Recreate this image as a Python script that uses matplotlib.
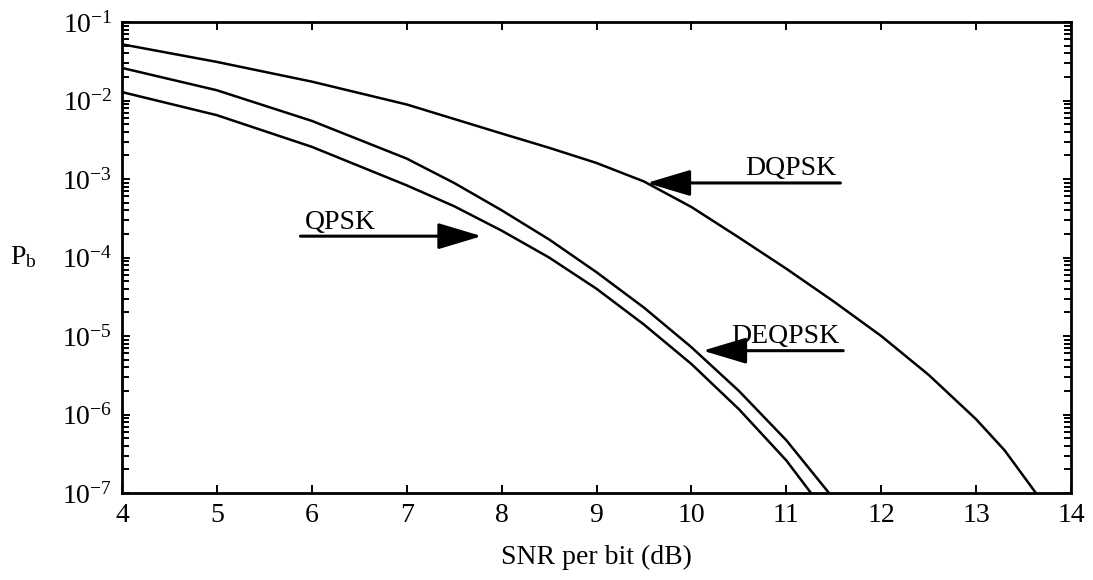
import numpy as np
import matplotlib.pyplot as plt
from matplotlib.ticker import LogLocator, NullFormatter

plt.rcParams['font.family'] = ['Liberation Serif', 'DejaVu Serif']
plt.rcParams['mathtext.fontset'] = 'custom'
plt.rcParams['mathtext.rm'] = 'Liberation Serif'
plt.rcParams['mathtext.it'] = 'Liberation Serif:italic'

# curvas (SNR en dB, Pb)
qpsk_x = [4.0, 5.0, 6.0, 7.0, 7.5, 8.0, 8.5, 9.0, 9.5, 10.0, 10.5, 11.0, 11.26]
qpsk_p = [1.28e-2, 6.5e-3, 2.57e-3, 8.3e-4, 4.5e-4, 2.2e-4, 1.0e-4, 4.0e-5,
          1.4e-5, 4.4e-6, 1.17e-6, 2.6e-7, 1.0e-7]

deqpsk_x = [4.0, 5.0, 6.0, 7.0, 7.5, 8.0, 8.5, 9.0, 9.5, 10.0, 10.5, 11.0, 11.45]
deqpsk_p = [2.6e-2, 1.35e-2, 5.5e-3, 1.82e-3, 8.9e-4, 4.0e-4, 1.7e-4, 6.5e-5,
            2.3e-5, 7.2e-6, 2.0e-6, 4.7e-7, 1.0e-7]

dqpsk_x = [4.0, 5.0, 6.0, 7.0, 8.0, 8.5, 9.0, 9.5, 10.0, 10.5, 11.0, 11.5, 12.0,
           12.5, 13.0, 13.3, 13.63]
dqpsk_p = [5.2e-2, 3.1e-2, 1.74e-2, 8.9e-3, 3.8e-3, 2.5e-3, 1.6e-3, 9.3e-4,
           4.4e-4, 1.8e-4, 7.2e-5, 2.75e-5, 1.0e-5, 3.2e-6, 8.7e-7, 3.5e-7, 1.0e-7]

# flechas: texto, cola x, punta x, y
etiquetas = ['QPSK', 'DQPSK', 'DEQPSK']
cola_x = [5.88, 11.57, 11.60]
punta_x = [7.79, 9.53, 10.12]
flecha_y = [1.87e-4, 8.9e-4, 6.5e-6]

x_ticks = list(range(4, 15))
y_exp = [1, 2, 3, 4, 5, 6, 7]

fig = plt.figure(figsize=(10.93, 5.8), dpi=100)
ax = fig.add_axes([122/1093, 1-493/580, (1071-122)/1093, (493-22)/580])

for xs, ps in [(qpsk_x, qpsk_p), (deqpsk_x, deqpsk_p), (dqpsk_x, dqpsk_p)]:
    ax.plot(xs, ps, color='black', lw=1.8)

ax.set_yscale('log')
ax.set_xlim(4, 14)
ax.set_ylim(1e-7, 1e-1)
ax.set_xticks(x_ticks)
ax.set_xticklabels([str(v) for v in x_ticks], fontsize=20)
ax.set_yticks([10.0**(-k) for k in y_exp])
ax.set_yticklabels(['10$^{-%d}$' % k for k in y_exp], fontsize=20)
ax.yaxis.set_minor_locator(LogLocator(base=10, subs=np.arange(2, 10), numticks=30))
ax.yaxis.set_minor_formatter(NullFormatter())

ax.tick_params(axis='both', which='both', direction='in', top=True, right=True, width=1.4)
ax.tick_params(axis='both', which='major', length=6, pad=7)
ax.tick_params(axis='y', which='minor', length=5)
for s in ax.spines.values():
    s.set_linewidth(2.0)

ax.set_xlabel('SNR per bit (dB)', fontsize=20, labelpad=12)
fig.text(10/1093, 1-257/580, 'P$_\\mathrm{b}$', fontsize=20, ha='left', va='center')

for i in range(len(etiquetas)):
    y = flecha_y[i]
    ax.annotate('', xy=(punta_x[i], y), xytext=(cola_x[i], y),
                arrowprops=dict(arrowstyle='-|>,head_length=1.0,head_width=0.3',
                                mutation_scale=27, lw=2.2, color='black',
                                shrinkA=0, shrinkB=0))
    if etiquetas[i] == 'QPSK':
        ax.text(cola_x[i] + 0.05, y*1.25, etiquetas[i], fontsize=20, ha='left', va='baseline')
    else:
        ax.text(cola_x[i] - 0.04, y*1.25, etiquetas[i], fontsize=20, ha='right', va='baseline')

fig.savefig('out.png', dpi=100)
